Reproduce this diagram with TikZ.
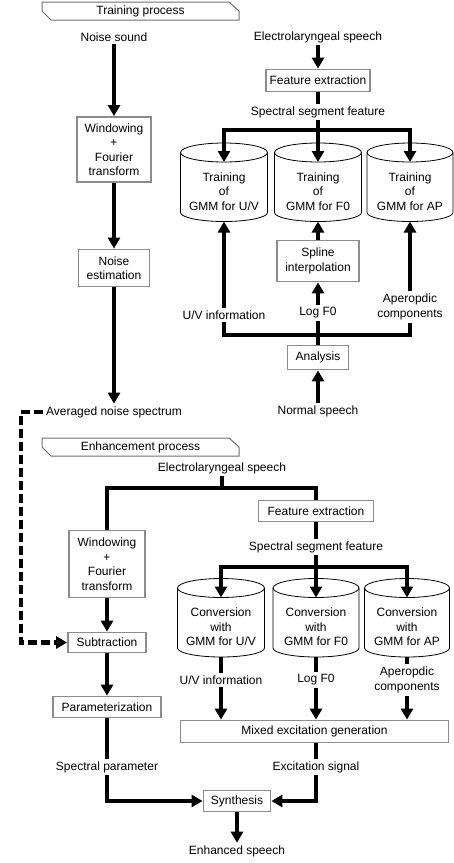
\documentclass[tikz,border=0pt]{standalone}
\usepackage{fontspec}
\setmainfont{Liberation Sans}
\usepackage{tikz}
\usetikzlibrary{arrows.meta}
\usepackage{xcolor}
\definecolor{boxgray}{HTML}{8C8C8C}
\definecolor{tabgray}{HTML}{6E6E6E}

% GMM store: name, centre x, top ellipse y, half width, text
\newcommand{\gmmstore}[5]{%
    \draw[dbline] (#2,#3) ellipse [x radius=#4pt, y radius=9.5pt];
    \draw[dbline] (#2-#4,#3) -- (#2-#4,#3+60)
        arc[start angle=180, end angle=360, x radius=#4pt, y radius=9pt] -- (#2+#4,#3);
    \coordinate (#1-top) at (#2,#3+9.5);
    \coordinate (#1-bot) at (#2,#3+69);
    \node[dbtext] (#1) at (#2,#3+39) {#5};
}

\begin{document}
\begin{tikzpicture}[x=1pt, y=-1pt,
    font=\fontsize{12}{14.5}\selectfont,
    proc/.style={draw=boxgray, line width=1.8pt, align=center, inner sep=1pt},
    lbl/.style={align=center, inner sep=2.5pt},
    flow/.style={line width=4.5pt, line join=miter},
    arr/.style={flow, -{Triangle[length=11pt, width=12pt]}},
    dasharr/.style={arr, dash pattern=on 9pt off 4pt},
    dbline/.style={draw=black, line width=0.8pt},
    dbtext/.style={align=center, inner sep=0pt},
    tab/.style={draw=tabgray, line width=1pt}]
    \useasboundingbox (0,0) rectangle (454,863);

    % 1. Training process
    \draw[tab] (42,2) -- (229,2) -- (239,11) -- (239,20) -- (51,20) -- (42,11) -- cycle;
    \node[lbl] (trn) at (140.5,11.5) {Training process};

    % noise branch
    \node[lbl] (noise) at (114,37) {Noise sound};
    \node[proc, minimum width=74pt, minimum height=65pt] (win1) at (114,149.5) {Windowing\\+\\Fourier\\transform};
    \node[proc, minimum width=71pt, minimum height=37pt] (est) at (114,268) {Noise\\estimation};
    \node[lbl] (avg) at (114,412) {Averaged noise spectrum};
    \draw[arr] (noise) -- (win1);
    \draw[arr] (win1) -- (est);
    \draw[arr] (est) -- (avg);

    % electrolaryngeal branch
    \node[lbl] (elsp1) at (318,37) {Electrolaryngeal speech};
    \node[proc, minimum width=104pt, minimum height=22pt] (fe1) at (318,80.5) {Feature extraction};
    \node[lbl] (ssf1) at (318,112) {Spectral segment feature};
    \coordinate (j1) at (318,130);
    \draw[arr] (elsp1) -- (fe1);
    \draw[flow] (fe1) -- (ssf1);
    \draw[flow] (ssf1) -- (j1);

    \gmmstore{tUV}{224}{152.5}{43.5}{Training\\of\\GMM for U/V}
    \gmmstore{tF0}{318}{152.5}{43.5}{Training\\of\\GMM for F0}
    \gmmstore{tAP}{410}{152.5}{43}{Training\\of\\GMM for AP}
    \draw[arr] (j1) -| (tUV-top);
    \draw[arr] (j1) -- (tF0-top);
    \draw[arr] (j1) -| (tAP-top);

    % normal speech branch
    \node[lbl] (uv1) at (224,315) {U/V information};
    \node[lbl] (logf1) at (318,313) {Log F0};
    \node[lbl] (ap1) at (410,307) {Aperopdic\\components};
    \node[proc, minimum width=82pt, minimum height=41pt] (spline) at (318,261) {Spline\\interpolation};
    \node[proc, minimum width=61pt, minimum height=24pt] (ana) at (318,357.5) {Analysis};
    \node[lbl] (normal) at (318,411) {Normal speech};
    \coordinate (j2) at (318,335);
    \draw[arr] (normal) -- (ana);
    \draw[flow] (ana) -- (logf1);
    \draw[flow] (uv1) |- (j2) -| (ap1);
    \draw[arr] (logf1) -- (spline);
    \draw[arr] (spline) -- (tF0-bot);
    \draw[arr] (uv1) -- (tUV-bot);
    \draw[arr] (ap1) -- (tAP-bot);

    % 2. Enhancement process
    \draw[tab] (42,438) -- (229,438) -- (239,447) -- (239,456) -- (51,456) -- (42,447) -- cycle;
    \node[lbl] (enh) at (140.5,447.5) {Enhancement process};

    \node[lbl] (elsp2) at (222,468) {Electrolaryngeal speech};
    \coordinate (j3) at (222,488);
    \node[proc, minimum width=76pt, minimum height=67pt] (win2) at (107,564) {Windowing\\+\\Fourier\\transform};
    \node[proc, minimum width=115pt, minimum height=21pt] (fe2) at (316,511) {Feature extraction};
    \draw[flow] (elsp2) -- (j3);
    \draw[flow] (j3) -| (win2);
    \draw[flow] (j3) -| (fe2);

    % spectral path
    \node[proc, minimum width=78pt, minimum height=20pt] (sub) at (107,642.5) {Subtraction};
    \node[proc, minimum width=108pt, minimum height=21pt] (param) at (107,707) {Parameterization};
    \node[lbl] (spar) at (107,767) {Spectral parameter};
    \coordinate (dk) at (21,412);
    \draw[dasharr] (avg) -- (dk) |- (sub);
    \draw[arr] (win2) -- (sub);
    \draw[arr] (sub) -- (param);
    \draw[flow] (param) -- (spar);

    % conversion
    \node[lbl] (ssf2) at (316,547) {Spectral segment feature};
    \coordinate (j4) at (316,567);
    \draw[flow] (fe2) -- (ssf2);
    \draw[flow] (ssf2) -- (j4);

    \gmmstore{cUV}{221}{588}{43.5}{Conversion\\with\\GMM for U/V}
    \gmmstore{cF0}{316}{588}{43}{Conversion\\with\\GMM for F0}
    \gmmstore{cAP}{407}{588}{42.5}{Conversion\\with\\GMM for AP}
    \draw[arr] (j4) -| (cUV-top);
    \draw[arr] (j4) -- (cF0-top);
    \draw[arr] (j4) -| (cAP-top);

    \node[lbl] (uv2) at (221,680) {U/V information};
    \node[lbl] (logf2) at (316,680) {Log F0};
    \node[lbl] (ap2) at (407,680) {Aperopdic\\components};
    \node[proc, minimum width=268pt, minimum height=22pt] (mix) at (314.5,731.5) {Mixed excitation generation};
    \draw[flow] (cUV-bot) -- (uv2);
    \draw[flow] (cF0-bot) -- (logf2);
    \draw[flow] (cAP-bot) -- (ap2);
    \draw[arr] (uv2) -- (uv2 |- mix.north);
    \draw[arr] (logf2) -- (logf2 |- mix.north);
    \draw[arr] (ap2) -- (ap2 |- mix.north);

    % synthesis
    \node[lbl] (exc) at (316,767) {Excitation signal};
    \node[proc, minimum width=67pt, minimum height=21pt] (syn) at (237,801) {Synthesis};
    \node[lbl] (out) at (237,851) {Enhanced speech};
    \draw[flow] (exc.north |- mix.south) -- (exc);
    \draw[arr] (exc) |- (syn);
    \draw[arr] (spar) |- (syn);
    \draw[arr] (syn) -- (out);
\end{tikzpicture}
\end{document}
